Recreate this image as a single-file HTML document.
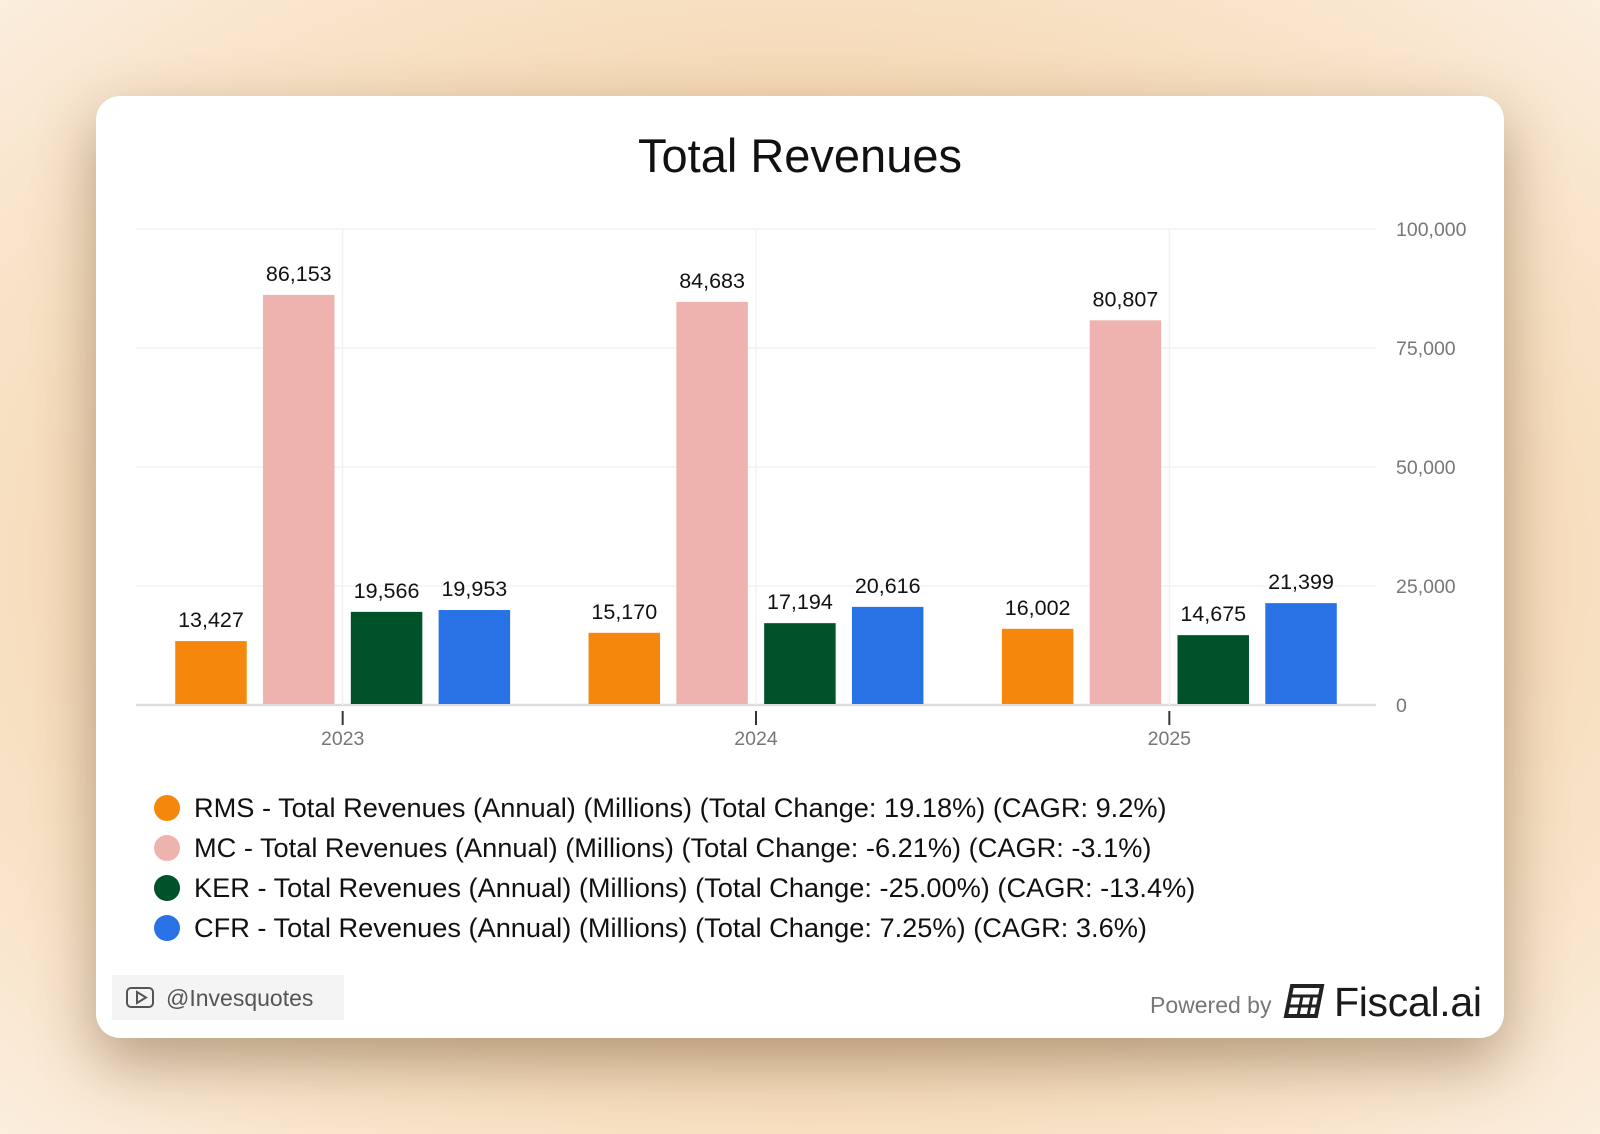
<!DOCTYPE html>
<html><head><meta charset="utf-8"><style>
body{margin:0;width:1600px;height:1134px;overflow:hidden;font-family:"Liberation Sans",sans-serif;
background:radial-gradient(ellipse at 50% 50%,#e6c39b 0%,#f5d7b2 55%,#fbeedd 100%);}
#card{position:absolute;left:96px;top:96px;width:1408px;height:942px;background:#fff;border-radius:24px;box-shadow:0 24px 60px rgba(100,70,40,.45);}
</style></head><body>
<div id="card"></div>
<svg width="1600" height="1134" style="position:absolute;left:0;top:0">
<text x="800" y="172" text-anchor="middle" font-size="47" fill="#111">Total Revenues</text>
<g id="grid"></g><g id="bars"></g><g id="legend"></g>
<g>
<rect x="112" y="975" width="232" height="45" fill="#f4f4f4"/>
<rect x="127" y="988" width="26" height="19" rx="4" fill="none" stroke="#555" stroke-width="2"/>
<polygon points="137,992 137,1003 146,997.5" fill="none" stroke="#555" stroke-width="2"/>
<text x="166" y="1006" font-size="23" fill="#555">@Invesquotes</text></g>
<text x="1150" y="1013" font-size="23" fill="#777">Powered by</text>
<g>
<path d="M1292,986 h30 l-6,30 h-30 z" fill="none" stroke="#222" stroke-width="4"/>
<path d="M1290,996 h30 M1288,1006 h30 M1302,996 l-4,20 M1312,996 l-4,20" stroke="#222" stroke-width="3"/>
<text x="1334" y="1016" font-size="41" fill="#1a1a1a" textLength="148">Fiscal.ai</text></g>
</svg>
<script>
const years=["2023","2024","2025"];
const seriesNames=["RMS","MC","KER","CFR"];
const rms=[13427,15170,16002];
const mc=[86153,84683,80807];
const ker=[19566,17194,14675];
const cfr=[19953,20616,21399];
const yTicks=[0,25000,50000,75000,100000];
const legendTexts=["RMS - Total Revenues (Annual) (Millions) (Total Change: 19.18%) (CAGR: 9.2%)","MC - Total Revenues (Annual) (Millions) (Total Change: -6.21%) (CAGR: -3.1%)","KER - Total Revenues (Annual) (Millions) (Total Change: -25.00%) (CAGR: -13.4%)","CFR - Total Revenues (Annual) (Millions) (Total Change: 7.25%) (CAGR: 3.6%)"];
const colors=["#f5880c","#eeb3ae","#00522b","#2872e6"];
const NS="http://www.w3.org/2000/svg";
const x0=136,x1=1376,yb=705,yt=229;
const y=v=>yb-(v/100000)*(yb-yt);
const gw=(x1-x0)/years.length;
const gx=i=>x0+gw*(i+0.5);
function mk(t,a,p){const e=document.createElementNS(NS,t);for(const k in a)e.setAttribute(k,a[k]);p.appendChild(e);return e;}
const grid=document.getElementById('grid'),bars=document.getElementById('bars'),leg=document.getElementById('legend');
yTicks.forEach(v=>{
 const l=mk('line',{x1:x0,x2:x1,y1:y(v),y2:y(v),stroke:v?'#f2f2f2':'#ddd','stroke-width':v?1.5:2.5},grid);
 
 
 const t=mk('text',{x:1396,y:y(v)+7,'font-size':19.5,fill:'#777'},grid);
 t.textContent=v.toLocaleString('en-US');
 
 
});
years.forEach((yr,i)=>{
 mk('line',{x1:gx(i),x2:gx(i),y1:yt,y2:yb,stroke:'#f2f2f2','stroke-width':1.5},grid);
 const tk=mk('line',{x1:gx(i),x2:gx(i),y1:711,y2:725,stroke:'#333','stroke-width':2},grid);
 
 
 const t=mk('text',{x:gx(i),y:745,'text-anchor':'middle','font-size':19.5,fill:'#777'},grid);
 t.textContent=yr;
 
 
});
const all=[rms,mc,ker,cfr];const bw=71.5,step=87.8;
all.forEach((s,si)=>s.forEach((v,i)=>{
 const cx=gx(i)+(si-1.5)*step;
 const r=mk('rect',{x:cx-bw/2,y:y(v),width:bw,height:yb-1-y(v),fill:colors[si]},bars);
 
 
 const t=mk('text',{x:cx,y:y(v)-14,'text-anchor':'middle','font-size':21.5,fill:'#111'},bars);
 t.textContent=v.toLocaleString('en-US');
 
 
}));
legendTexts.forEach((s,i)=>{
 const g=mk('g',{},leg);
 
 
 mk('circle',{cx:167,cy:808+i*40,r:13,fill:colors[i]},g);
 const t=mk('text',{x:194,y:817+i*40,'font-size':27.2,fill:'#111'},g);t.textContent=s;
});
</script>
</body></html>
